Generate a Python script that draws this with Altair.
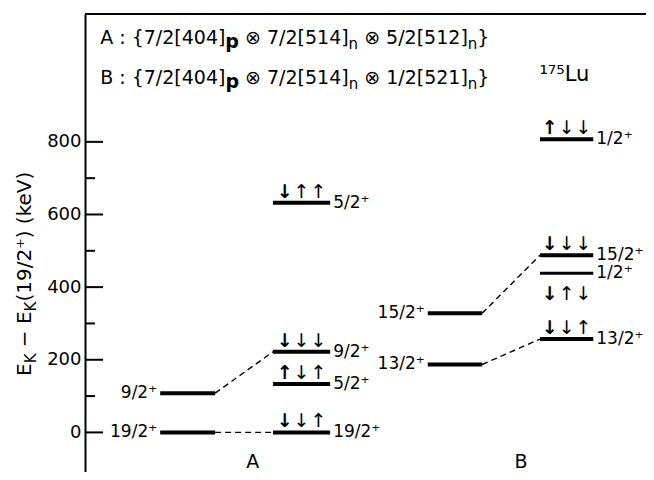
import altair as alt
import pandas as pd

# ---------------- data ----------------
# energy levels (keV relative to 19/2+)
lvl_col = ["A1", "A1", "A2", "A2", "A2", "A2", "B1", "B1", "B2", "B2", "B2", "B2"]
lvl_energy = [0, 108, 0, 133, 222, 632, 187, 328, 257, 438, 488, 807]
lvl_label = ["19/2⁺", "9/2⁺", "19/2⁺", "5/2⁺", "9/2⁺", "5/2⁺",
             "13/2⁺", "15/2⁺", "13/2⁺", "1/2⁺", "15/2⁺", "1/2⁺"]
lvl_width = [4, 4, 4, 4, 4, 4, 4, 4, 4, 3, 4, 4]

# column extents (x in arbitrary layout units) and label side
col_names = ["A1", "A2", "B1", "B2"]
col_x0 = [1.34, 3.35, 6.11, 8.11]
col_x1 = [2.32, 4.37, 7.08, 9.06]
col_side = ["left", "right", "left", "right"]

# dashed connectors between configurations
conn_from = [("A1", 108), ("A1", 0), ("B1", 328), ("B1", 187)]
conn_to = [("A2", 222), ("A2", 0), ("B2", 488), ("B2", 257)]

# spin arrows: column, base energy, pattern (first arrow bold)
arr_col = ["A2", "A2", "A2", "A2", "B2", "B2", "B2", "B2"]
arr_base = [632, 222, 133, 0, 807, 488, 352, 257]
arr_pat = ["↓↑↑", "↓↓↓", "↑↓↑", "↓↓↑", "↑↓↓", "↓↓↓", "↓↑↓", "↓↓↑"]

y_ticks = [0, 200, 400, 600, 800]
y_minor = [100, 300, 500, 700]

# header configurations: (text, kind) segments; kind: t=normal, p=bold p, n=subscript
hdr_A = [("A : {7/2[404]", "t"), ("p", "p"), (" ⊗ 7/2[514]", "t"), ("n", "n"),
         (" ⊗ 5/2[512]", "t"), ("n", "n"), ("}", "t")]
hdr_B = [("B : {7/2[404]", "t"), ("p", "p"), (" ⊗ 7/2[514]", "t"), ("n", "n"),
         (" ⊗ 1/2[521]", "t"), ("n", "n"), ("}", "t")]
hdr_E = [1086, 976]

# y-axis title segments
ytitle = [("E", "t"), ("K", "n"), (" − E", "t"), ("K", "n"), ("(19/2⁺) (keV)", "t")]

# ---------------- tables ----------------
cx0 = dict(zip(col_names, col_x0))
cx1 = dict(zip(col_names, col_x1))
cside = dict(zip(col_names, col_side))

levels = pd.DataFrame({
    "col": lvl_col, "E": lvl_energy, "label": lvl_label, "w": lvl_width,
})
levels["x0"] = levels["col"].map(cx0)
levels["x1"] = levels["col"].map(cx1)
levels["side"] = levels["col"].map(cside)

conn = pd.DataFrame({
    "x0": [cx1[c] for c, _ in conn_from], "y0": [e for _, e in conn_from],
    "x1": [cx0[c] for c, _ in conn_to], "y1": [e for _, e in conn_to],
})

arrow_rows = []
for c, b, p in zip(arr_col, arr_base, arr_pat):
    mid = (cx0[c] + cx1[c]) / 2
    for i, ch in enumerate(p):
        arrow_rows.append({"x": mid + (i - 1) * 0.30, "E": b, "ch": ch,
                           "first": i == 0})
arrows = pd.DataFrame(arrow_rows)

X_DOM = [0, 10]
Y_DOM = [-109, 1152]
PLOT_W, PLOT_H = 561, 458
PX = PLOT_W / (X_DOM[1] - X_DOM[0])  # pixels per x unit
xs = alt.Scale(domain=X_DOM, nice=False, zero=False)
ys = alt.Scale(domain=Y_DOM, nice=False, zero=False)
FONT = "DejaVu Sans"

# DejaVu Sans advance widths (em) for laying out text segments
W = {" ": 0.318, "/": 0.337, "[": 0.390, "]": 0.390, "{": 0.636, "}": 0.636,
     "A": 0.684, "B": 0.686, ":": 0.337, "⊗": 0.838, "p": 0.716, "n": 0.634,
     "E": 0.632, "K": 0.656, "−": 0.838, "(": 0.390, ")": 0.390, "⁺": 0.52,
     "k": 0.579, "e": 0.615, "V": 0.684}


def seg_layout(segs, start, fs_main, fs_sub):
    """Return (offset_px, stripped_text, kind) for each segment (leading spaces
    are turned into offsets because SVG collapses them)."""
    out, pos = [], start
    for txt, kind in segs:
        fs = fs_sub if kind == "n" else fs_main
        lead = len(txt) - len(txt.lstrip(" "))
        out.append((pos + lead * W[" "] * fs, txt.strip(" "), kind))
        pos += sum(W.get(ch, 0.636) for ch in txt) * fs
    return out


FS_MAIN, FS_SUB = 19, 15
seg_rows = []
for segs, e in zip([hdr_A, hdr_B], hdr_E):
    for off, txt, kind in seg_layout(segs, 0.27 * PX, FS_MAIN, FS_SUB):
        seg_rows.append({"x": off / PX, "E": e, "t": txt, "kind": kind})
segs_df = pd.DataFrame(seg_rows)

TT_MAIN, TT_SUB = 20, 15
tt_rows = []
for off, txt, kind in seg_layout(ytitle, 0, TT_MAIN, TT_SUB):
    tt_rows.append({"py": 362 - off, "t": txt, "kind": kind})
tt_df = pd.DataFrame(tt_rows)

base_lv = alt.Chart(levels)

level_lines = base_lv.mark_rule(color="black", strokeCap="butt").encode(
    x=alt.X("x0:Q", scale=xs, axis=None),
    x2="x1:Q",
    y=alt.Y("E:Q", scale=ys,
            axis=alt.Axis(values=y_ticks, tickSize=0, labelFontSize=18, labelFont=FONT,
                          labelColor="black", labelPadding=4, domainColor="black",
                          domainWidth=2, grid=False, title=None)),
    strokeWidth=alt.StrokeWidth("w:Q", scale=None, legend=None),
)

lab_left = base_lv.transform_filter(alt.datum.side == "left").mark_text(
    align="right", baseline="middle", dx=-3, fontSize=17, font=FONT, color="black"
).encode(x=alt.X("x0:Q", scale=xs), y=alt.Y("E:Q", scale=ys), text="label:N")

lab_right = base_lv.transform_filter(alt.datum.side == "right").mark_text(
    align="left", baseline="middle", dx=3, fontSize=17, font=FONT, color="black"
).encode(x=alt.X("x1:Q", scale=xs), y=alt.Y("E:Q", scale=ys), text="label:N")

connectors = alt.Chart(conn).mark_rule(color="black", strokeWidth=1.4,
                                       strokeDash=[6, 4]).encode(
    x=alt.X("x0:Q", scale=xs), y=alt.Y("y0:Q", scale=ys), x2="x1:Q", y2="y1:Q")

arrow_bold = alt.Chart(arrows).transform_filter(alt.datum.first).mark_text(
    baseline="bottom", dy=-1, fontSize=19, font=FONT, fontWeight="bold", color="black"
).encode(x=alt.X("x:Q", scale=xs), y=alt.Y("E:Q", scale=ys), text="ch:N")
arrow_norm = alt.Chart(arrows).transform_filter(~alt.datum.first).mark_text(
    baseline="bottom", dy=-1, fontSize=19, font=FONT, color="black"
).encode(x=alt.X("x:Q", scale=xs), y=alt.Y("E:Q", scale=ys), text="ch:N")

# ticks drawn inward
major_t = alt.Chart(pd.DataFrame({"E": y_ticks})).mark_rule(color="black", strokeWidth=2).encode(
    y=alt.Y("E:Q", scale=ys), x=alt.value(0), x2=alt.value(18))
minor_t = alt.Chart(pd.DataFrame({"E": y_minor})).mark_rule(color="black", strokeWidth=2).encode(
    y=alt.Y("E:Q", scale=ys), x=alt.value(0), x2=alt.value(10))
top_line = alt.Chart(pd.DataFrame({"E": [Y_DOM[1]]})).mark_rule(color="black", strokeWidth=2).encode(
    y=alt.Y("E:Q", scale=ys), x=alt.value(0), x2=alt.value(570))

# header texts
seg_base = alt.Chart(segs_df)
hdr_t = seg_base.transform_filter(alt.datum.kind == "t").mark_text(
    align="left", baseline="middle", font=FONT, fontSize=FS_MAIN, color="black"
).encode(x=alt.X("x:Q", scale=xs), y=alt.Y("E:Q", scale=ys), text="t:N")
hdr_p = seg_base.transform_filter(alt.datum.kind == "p").mark_text(
    align="left", baseline="middle", dy=4, font=FONT, fontSize=FS_MAIN, fontWeight="bold",
    color="black"
).encode(x=alt.X("x:Q", scale=xs), y=alt.Y("E:Q", scale=ys), text="t:N")
hdr_n = seg_base.transform_filter(alt.datum.kind == "n").mark_text(
    align="left", baseline="middle", dy=6, font=FONT, fontSize=FS_SUB, color="black"
).encode(x=alt.X("x:Q", scale=xs), y=alt.Y("E:Q", scale=ys), text="t:N")

# rotated y-axis title
tt_base = alt.Chart(tt_df)
tt_main = tt_base.transform_filter(alt.datum.kind == "t").mark_text(
    align="left", baseline="middle", angle=270, font=FONT, fontSize=TT_MAIN, color="black"
).encode(x=alt.value(-60), y=alt.Y("py:Q", scale=None), text="t:N")
tt_sub = tt_base.transform_filter(alt.datum.kind == "n").mark_text(
    align="left", baseline="middle", angle=270, dy=6, font=FONT, fontSize=TT_SUB,
    color="black"
).encode(x=alt.value(-60), y=alt.Y("py:Q", scale=None), text="t:N")

iso = pd.DataFrame({"x": [8.1], "E": [984], "t": ["¹⁷⁵Lu"]})
iso_t = alt.Chart(iso).mark_text(align="left", baseline="middle", font=FONT,
                                 fontSize=21, color="black").encode(
    x=alt.X("x:Q", scale=xs), y=alt.Y("E:Q", scale=ys), text="t:N")

cols = pd.DataFrame({"x": [2.99, 7.77], "E": [-82, -82], "t": ["A", "B"]})
col_lab = alt.Chart(cols).mark_text(align="center", baseline="middle", font=FONT,
                                    fontSize=19, color="black").encode(
    x=alt.X("x:Q", scale=xs), y=alt.Y("E:Q", scale=ys), text="t:N")

chart = alt.layer(
    level_lines, connectors, lab_left, lab_right, arrow_bold, arrow_norm,
    major_t, minor_t, top_line, hdr_t, hdr_p, hdr_n, tt_main, tt_sub, iso_t, col_lab
).properties(
    width=PLOT_W, height=PLOT_H,
    autosize=alt.AutoSizeParams(type="none"),
    padding={"left": 77, "top": 6, "right": 0, "bottom": 0},
).configure_view(stroke=None).configure(background="white")

chart.save("out.html", embed_options={"renderer": "svg", "actions": False})
